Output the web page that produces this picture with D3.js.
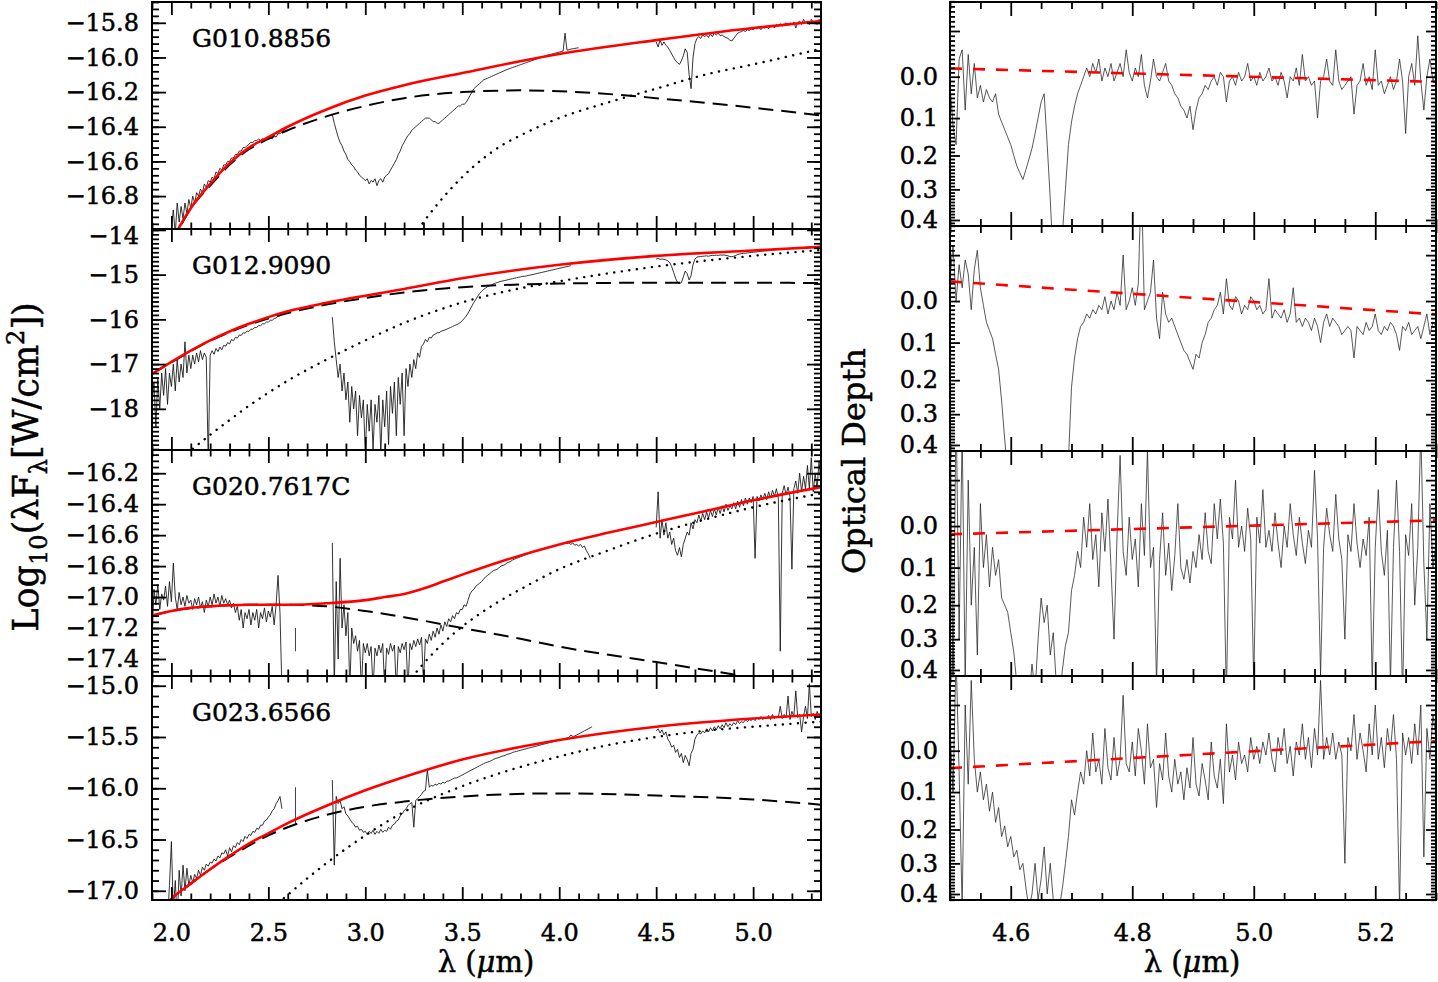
<!DOCTYPE html>
<html><head><meta charset="utf-8">
<script src="https://cdn.jsdelivr.net/npm/d3@7"></script>
<style>body{margin:0;background:#fff}</style>
</head><body><svg id="c" width="1438" height="982"></svg>
<script>
// ---------------- DATA ----------------
const panelNames = ["G010.8856","G012.9090","G020.7617C","G023.6566"];
const xTicksLeft = [2.0,2.5,3.0,3.5,4.0,4.5,5.0];
const xTicksRight = [4.6,4.8,5.0,5.2];
const yTicks1 = [-15.8,-16.0,-16.2,-16.4,-16.6,-16.8];
const yTicks2 = [-14,-15,-16,-17,-18];
const yTicks3 = [-16.2,-16.4,-16.6,-16.8,-17.0,-17.2,-17.4];
const yTicks4 = [-15.0,-15.5,-16.0,-16.5,-17.0];
const tauTicks = [0.0,0.1,0.2,0.3,0.4];
const tauExtraMajor = [-0.1];

// spectra (log10 lambda F_lambda), sampled every 0.01 micron from the given start
const specStep = 0.01;
const g1K0 = 2.00, g1K = [-16.98,-16.88,-17.02,-16.84,-16.95,-16.86,-16.93,-16.84,-16.90,-16.82,-16.87,-16.80,-16.84,-16.78,-16.80,-16.76,-16.78,-16.73,-16.75,-16.71,-16.72,-16.69,-16.70,-16.66,-16.67,-16.64,-16.65,-16.62,-16.62,-16.60,-16.60,-16.58,-16.58,-16.56,-16.56,-16.54,-16.54,-16.52,-16.52,-16.51,-16.50,-16.49,-16.49,-16.48,-16.48,-16.47,-16.48,-16.47,-16.48,-16.47,-16.47,-16.46,-16.47,-16.45,-16.46,-16.44,-16.44,-16.43,-16.42,-16.41,-16.40];
const g1L0 = 2.83, g1L = [-16.33,-16.38,-16.42,-16.46,-16.49,-16.51,-16.54,-16.56,-16.59,-16.60,-16.62,-16.63,-16.65,-16.66,-16.68,-16.69,-16.70,-16.71,-16.70,-16.73,-16.71,-16.72,-16.70,-16.74,-16.71,-16.70,-16.72,-16.69,-16.68,-16.67,-16.65,-16.63,-16.61,-16.59,-16.56,-16.54,-16.51,-16.49,-16.47,-16.45,-16.44,-16.42,-16.41,-16.40,-16.39,-16.38,-16.37,-16.36,-16.35,-16.35,-16.35,-16.36,-16.37,-16.37,-16.38,-16.38,-16.37,-16.36,-16.35,-16.34,-16.33,-16.32,-16.31,-16.30,-16.29,-16.28,-16.28,-16.27,-16.27,-16.26,-16.24,-16.22,-16.20,-16.18,-16.17,-16.16,-16.15,-16.14,-16.13,-16.125,-16.12,-16.115,-16.11,-16.105,-16.10,-16.095,-16.09,-16.085,-16.08,-16.075,-16.07,-16.066,-16.062,-16.058,-16.054,-16.05,-16.046,-16.042,-16.038,-16.034,-16.03,-16.026,-16.022,-16.018,-16.014,-16.01,-16.006,-16.002,-15.998,-15.994,-15.99,-15.987,-15.984,-15.981,-15.978,-15.975,-15.972,-15.969,-15.966,-15.963,-15.86,-15.958,-15.955,-15.952,-15.95,-15.948,-15.946,-15.944];
const g1M0 = 4.50, g1M = [-15.91,-15.94,-15.90,-15.93,-15.91,-15.93,-15.94,-15.96,-15.98,-16.00,-16.02,-16.03,-16.04,-16.02,-15.99,-15.95,-15.97,-16.10,-16.18,-16.00,-15.92,-15.89,-15.88,-15.89,-15.87,-15.88,-15.87,-15.885,-15.865,-15.88,-15.86,-15.87,-15.86,-15.875,-15.87,-15.88,-15.885,-15.89,-15.90,-15.905,-15.89,-15.875,-15.86,-15.855,-15.85,-15.845,-15.85,-15.84,-15.845,-15.835,-15.84,-15.83,-15.835,-15.825,-15.84,-15.825,-15.83,-15.82,-15.835,-15.82,-15.815,-15.83,-15.81,-15.82,-15.805,-15.82,-15.81,-15.80,-15.815,-15.80,-15.81,-15.795,-15.83,-15.80,-15.79,-15.81,-15.78,-15.80,-15.79,-15.81,-15.78,-15.80,-15.79,-15.81,-15.78,-15.80];

const g2K0 = 1.90, g2K = [-17.9,-17.4,-18.4,-17.3,-18.0,-17.2,-17.7,-17.1,-17.9,-17.2,-17.5,-17.0,-17.6,-16.9,-17.4,-17.0,-17.3,-16.5,-17.2,-16.8,-17.1,-16.8,-17.0,-16.75,-16.95,-16.7,-16.9,-16.75,-16.85,-19.2,-16.8,-16.7,-16.78,-16.65,-16.72,-16.62,-16.68,-16.58,-16.6,-16.52,-16.55,-16.45,-16.48,-16.4,-16.42,-16.35,-16.36,-16.3,-16.31,-16.26,-16.27,-16.22,-16.22,-16.18,-16.18,-16.14,-16.14,-16.10,-16.10,-16.06,-16.06,-16.02,-16.02,-15.98,-15.97,-15.93,-15.92];
const g2L0 = 2.83, g2L = [-15.95,-16.5,-16.9,-17.3,-17.0,-17.6,-17.2,-17.8,-17.4,-18.3,-17.5,-18.0,-17.6,-18.6,-17.7,-18.2,-17.8,-19.0,-17.9,-18.5,-17.8,-18.9,-17.9,-18.3,-17.7,-19.0,-17.8,-18.4,-17.6,-18.8,-17.5,-18.1,-17.4,-18.6,-17.3,-17.9,-17.2,-18.6,-17.1,-17.5,-17.0,-17.3,-16.9,-17.1,-16.75,-16.85,-16.6,-16.55,-16.45,-16.5,-16.4,-16.42,-16.35,-16.33,-16.30,-16.30,-16.27,-16.25,-16.24,-16.22,-16.2,-16.18,-16.16,-16.14,-16.12,-16.10,-16.07,-16.03,-15.98,-15.93,-15.86,-15.78,-15.70,-15.62,-15.55,-15.48,-15.42,-15.37,-15.33,-15.30,-15.27,-15.25,-15.23,-15.21,-15.19,-15.18,-15.16,-15.15,-15.14,-15.13,-15.12,-15.11,-15.10,-15.09,-15.08,-15.07,-15.06,-15.05,-15.04,-15.035,-15.03,-15.02,-15.01,-15.0,-14.99,-14.98,-14.97,-14.96,-14.95,-14.94,-14.93,-14.92,-14.91,-14.90,-14.89,-14.88,-14.87,-14.86,-14.85,-14.84,-14.83,-14.82,-14.81,-14.80];
const g2M0 = 4.50, g2M = [-14.65,-14.64,-14.66,-14.65,-14.66,-14.67,-14.69,-14.73,-14.82,-14.95,-15.08,-15.17,-15.20,-15.18,-15.05,-14.92,-14.98,-15.12,-15.02,-14.78,-14.65,-14.61,-14.60,-14.595,-14.59,-14.585,-14.58,-14.59,-14.575,-14.57,-14.57,-14.565,-14.57,-14.56,-14.565,-14.56,-14.57,-14.58,-14.595,-14.60,-14.59,-14.57,-14.55,-14.54,-14.53,-14.525,-14.52,-14.515,-14.51,-14.505,-14.5,-14.495,-14.49,-14.485,-14.48,-14.475,-14.47,-14.47,-14.465,-14.46,-14.455,-14.45,-14.445,-14.44,-14.44,-14.435,-14.43,-14.425,-14.42,-14.42,-14.415,-14.41,-14.41,-14.405,-14.40,-14.40,-14.395,-14.39,-14.39,-14.385,-14.38,-14.38,-14.375,-14.37,-14.37,-14.365];

const g3K0 = 1.90, g3K = [-17.30,-16.95,-17.05,-16.92,-17.08,-16.98,-17.02,-16.93,-17.06,-16.90,-17.03,-16.78,-17.00,-17.08,-16.97,-17.05,-17.00,-17.06,-16.99,-17.04,-17.02,-17.08,-17.01,-17.05,-17.0,-17.07,-17.03,-17.1,-17.02,-17.06,-17.0,-17.05,-16.98,-17.04,-17.0,-17.06,-16.99,-17.04,-17.01,-17.05,-17.02,-17.07,-17.04,-17.1,-17.06,-17.15,-17.08,-17.2,-17.1,-17.14,-17.08,-17.18,-17.1,-17.15,-17.08,-17.2,-17.1,-17.14,-17.07,-17.16,-17.09,-17.13,-17.06,-17.18,-17.05,-16.86,-17.1,-17.6];
const g3L0 = 2.83, g3L = [-16.65,-17.6,-16.9,-17.4,-16.75,-17.2,-17.05,-17.25,-17.1,-17.6,-17.2,-17.3,-17.25,-17.35,-17.28,-17.6,-17.3,-17.36,-17.3,-17.38,-17.32,-17.6,-17.33,-17.38,-17.31,-17.36,-17.3,-17.6,-17.33,-17.37,-17.3,-17.35,-17.31,-17.6,-17.32,-17.36,-17.3,-17.34,-17.29,-17.6,-17.3,-17.34,-17.28,-17.32,-17.27,-17.31,-17.26,-17.55,-17.27,-17.3,-17.24,-17.28,-17.22,-17.26,-17.2,-17.24,-17.18,-17.22,-17.16,-17.19,-17.14,-17.16,-17.12,-17.14,-17.1,-17.11,-17.08,-17.08,-17.05,-17.06,-17.02,-16.98,-16.96,-16.95,-16.93,-16.92,-16.91,-16.9,-16.885,-16.87,-16.86,-16.85,-16.84,-16.83,-16.825,-16.82,-16.81,-16.80,-16.795,-16.79,-16.78,-16.775,-16.77,-16.76,-16.755,-16.75,-16.745,-16.74,-16.735,-16.73,-16.725,-16.72,-16.715,-16.71,-16.705,-16.70,-16.70,-16.695,-16.69,-16.69,-16.685,-16.68,-16.68,-16.675,-16.67,-16.67,-16.665,-16.66,-16.66,-16.655,-16.65,-16.655,-16.65,-16.66,-16.65,-16.665,-16.66,-16.67,-16.66,-16.68,-16.67,-16.7,-16.72,-16.75];
const g3M0 = 4.50, g3M = [-16.55,-16.32,-16.62,-16.5,-16.6,-16.52,-16.62,-16.58,-16.66,-16.62,-16.7,-16.73,-16.68,-16.74,-16.66,-16.62,-16.58,-16.6,-16.52,-16.56,-16.5,-16.52,-16.47,-16.51,-16.46,-16.5,-16.45,-16.49,-16.44,-16.48,-16.43,-16.47,-16.42,-16.46,-16.41,-16.45,-16.4,-16.44,-16.41,-16.43,-16.39,-16.43,-16.38,-16.42,-16.37,-16.41,-16.36,-16.4,-16.36,-16.39,-16.35,-16.75,-16.35,-16.38,-16.34,-16.37,-16.33,-16.37,-16.32,-16.36,-16.31,-16.35,-16.3,-16.36,-17.35,-16.33,-16.28,-16.34,-16.29,-16.35,-16.82,-16.3,-16.25,-16.33,-16.2,-16.32,-16.22,-16.3,-16.15,-16.3,-16.1,-16.32,-16.2,-16.3,-16.12,-16.28];

const g4K0 = 1.98, g4K = [-17.3,-16.95,-16.52,-17.2,-16.9,-17.3,-16.8,-17.05,-16.75,-17.0,-16.78,-16.95,-16.85,-16.92,-16.84,-16.88,-16.8,-16.85,-16.77,-16.8,-16.74,-16.76,-16.72,-16.73,-16.69,-16.71,-16.66,-16.68,-16.63,-16.64,-16.6,-16.66,-16.58,-16.62,-16.56,-16.58,-16.53,-16.55,-16.5,-16.52,-16.47,-16.49,-16.45,-16.46,-16.42,-16.43,-16.39,-16.4,-16.36,-16.36,-16.32,-16.31,-16.28,-16.26,-16.22,-16.2,-16.15,-16.12,-16.08,-16.2];
const g4L0 = 2.83, g4L = [-15.92,-16.75,-16.08,-16.15,-16.12,-16.2,-16.18,-16.25,-16.27,-16.3,-16.33,-16.35,-16.38,-16.37,-16.41,-16.4,-16.43,-16.42,-16.45,-16.42,-16.44,-16.41,-16.45,-16.42,-16.44,-16.4,-16.43,-16.41,-16.42,-16.38,-16.4,-16.36,-16.35,-16.32,-16.31,-16.27,-16.25,-16.22,-16.2,-16.17,-16.15,-16.14,-16.38,-16.12,-16.1,-16.08,-16.06,-16.03,-16.02,-15.82,-15.99,-15.97,-15.98,-15.96,-15.97,-15.95,-15.96,-15.94,-15.95,-15.93,-15.93,-15.92,-15.91,-15.9,-15.9,-15.89,-15.88,-15.87,-15.86,-15.85,-15.84,-15.83,-15.82,-15.81,-15.8,-15.79,-15.78,-15.77,-15.76,-15.75,-15.745,-15.74,-15.73,-15.72,-15.71,-15.705,-15.70,-15.69,-15.685,-15.68,-15.67,-15.665,-15.66,-15.65,-15.645,-15.64,-15.635,-15.63,-15.625,-15.62,-15.615,-15.61,-15.605,-15.60,-15.595,-15.59,-15.585,-15.58,-15.575,-15.57,-15.565,-15.56,-15.555,-15.55,-15.545,-15.54,-15.535,-15.53,-15.525,-15.52,-15.515,-15.51,-15.505,-15.48,-15.495,-15.49,-15.48,-15.47,-15.46,-15.45,-15.44,-15.43,-15.42,-15.41,-15.40];
const g4M0 = 4.50, g4M = [-15.44,-15.42,-15.46,-15.43,-15.48,-15.45,-15.52,-15.55,-15.6,-15.58,-15.65,-15.62,-15.7,-15.66,-15.75,-15.68,-15.72,-15.78,-15.66,-15.62,-15.52,-15.48,-15.46,-15.47,-15.44,-15.46,-15.42,-15.45,-15.41,-15.44,-15.4,-15.43,-15.39,-15.42,-15.38,-15.41,-15.36,-15.4,-15.37,-15.39,-15.36,-15.38,-15.34,-15.37,-15.35,-15.36,-15.33,-15.35,-15.33,-15.34,-15.32,-15.34,-15.31,-15.33,-15.3,-15.33,-15.31,-15.32,-15.29,-15.33,-15.28,-15.32,-15.3,-15.31,-15.2,-15.32,-15.28,-15.31,-15.1,-15.33,-15.25,-15.3,-15.05,-15.31,-15.28,-15.45,-15.3,-15.2,-15.32,-14.98,-15.3,-15.27,-15.33,-15.25,-15.3,-15.26];

// model curves [lambda, log flux]: total (red), cool component (dashed), hot component (dotted)
const g1Red  = [[2.0,-17.07],[2.05,-16.96],[2.1,-16.87],[2.2,-16.73],[2.3,-16.61],[2.4,-16.52],[2.5,-16.46],[2.6,-16.40],[2.8,-16.30],[3.0,-16.22],[3.2,-16.16],[3.5,-16.09],[4.0,-15.98],[4.5,-15.90],[5.0,-15.83],[5.35,-15.79]];
const g1Dash = [[2.0,-17.08],[2.1,-16.87],[2.2,-16.74],[2.3,-16.62],[2.4,-16.53],[2.5,-16.47],[2.6,-16.42],[2.8,-16.34],[3.0,-16.28],[3.2,-16.235],[3.5,-16.20],[3.8,-16.19],[4.0,-16.195],[4.3,-16.215],[4.5,-16.235],[5.0,-16.29],[5.35,-16.335]];
const g1Dot  = [[3.25,-17.03],[3.3,-16.95],[3.4,-16.81],[3.5,-16.69],[3.6,-16.59],[3.7,-16.51],[3.8,-16.45],[4.0,-16.35],[4.25,-16.26],[4.5,-16.18],[4.75,-16.10],[5.0,-16.04],[5.35,-15.95]];
const g2Red  = [[1.9,-17.22],[2.0,-16.95],[2.1,-16.70],[2.2,-16.47],[2.3,-16.27],[2.4,-16.10],[2.5,-15.95],[2.6,-15.82],[2.8,-15.63],[3.0,-15.47],[3.2,-15.32],[3.5,-15.08],[4.0,-14.78],[4.5,-14.58],[5.0,-14.46],[5.35,-14.38]];
const g2Dash = [[1.9,-17.22],[2.0,-16.96],[2.2,-16.48],[2.4,-16.12],[2.6,-15.86],[2.8,-15.67],[3.0,-15.52],[3.2,-15.40],[3.5,-15.28],[3.8,-15.22],[4.0,-15.20],[4.5,-15.18],[5.0,-15.18],[5.35,-15.19]];
const g2Dot  = [[2.08,-19.0],[2.2,-18.58],[2.3,-18.25],[2.4,-17.93],[2.5,-17.64],[2.6,-17.37],[2.8,-16.90],[3.0,-16.47],[3.2,-16.08],[3.5,-15.62],[3.75,-15.35],[4.0,-15.15],[4.5,-14.82],[5.0,-14.58],[5.35,-14.45]];
const g3Red  = [[1.9,-17.12],[2.0,-17.09],[2.1,-17.07],[2.2,-17.06],[2.4,-17.05],[2.6,-17.05],[2.8,-17.04],[3.0,-17.02],[3.1,-17.0],[3.2,-16.98],[3.3,-16.945],[3.4,-16.90],[3.5,-16.855],[3.7,-16.77],[4.0,-16.66],[4.25,-16.585],[4.5,-16.515],[4.75,-16.445],[5.0,-16.375],[5.35,-16.29]];
const g3Dash = [[1.9,-17.12],[2.0,-17.09],[2.2,-17.06],[2.4,-17.05],[2.6,-17.05],[2.8,-17.06],[3.0,-17.09],[3.2,-17.13],[3.5,-17.20],[3.8,-17.27],[4.0,-17.32],[4.5,-17.42],[5.0,-17.52]];
const g3Dot  = [[3.24,-17.52],[3.3,-17.43],[3.4,-17.30],[3.5,-17.19],[3.6,-17.10],[3.7,-17.02],[3.8,-16.95],[4.0,-16.82],[4.25,-16.70],[4.5,-16.59],[4.75,-16.50],[5.0,-16.42],[5.35,-16.33]];
const g4Red  = [[1.98,-17.12],[2.0,-17.08],[2.1,-16.93],[2.2,-16.79],[2.3,-16.66],[2.4,-16.54],[2.5,-16.44],[2.6,-16.34],[2.8,-16.17],[3.0,-16.02],[3.2,-15.89],[3.5,-15.72],[4.0,-15.53],[4.5,-15.40],[5.0,-15.32],[5.35,-15.28]];
const g4Dash = [[1.98,-17.12],[2.0,-17.08],[2.1,-16.93],[2.2,-16.79],[2.3,-16.67],[2.4,-16.56],[2.5,-16.46],[2.6,-16.38],[2.8,-16.26],[3.0,-16.18],[3.2,-16.13],[3.5,-16.08],[4.0,-16.05],[4.5,-16.07],[5.0,-16.11],[5.35,-16.16]];
const g4Dot  = [[2.55,-17.12],[2.6,-17.04],[2.7,-16.88],[2.8,-16.73],[3.0,-16.46],[3.2,-16.23],[3.5,-15.98],[3.75,-15.82],[4.0,-15.69],[4.25,-15.58],[4.5,-15.50],[4.75,-15.44],[5.0,-15.40],[5.35,-15.35]];
const g3Spike = [[2.64,-17.2],[2.64,-17.35]];
const g4Spike = [[2.64,-15.99],[2.64,-16.35]];

// optical depth, sampled every 0.005 micron from 4.500
const tauStart = 4.5, tauStep = 0.005;
const tau1 = [0.02,0.12,0.17,-0.04,-0.06,0.08,-0.05,0.04,-0.03,0.05, 0.02,0.06,0.03,0.05,0.06,0.04,0.09,0.11,0.13,0.15, 0.17,0.20,0.23,0.25,0.27,0.24,0.21,0.18,0.14,0.10, 0.06,0.04,0.17,0.33,0.55,0.70,0.65,0.45,0.30,0.17, 0.11,0.07,0.04,0.02,0.0,-0.02,0.0,-0.03,-0.01,-0.04, 0.01,-0.02,0.0,-0.03,0.01,-0.01,-0.03,0.0,-0.06,-0.01, 0.01,-0.02,0.0,-0.05,0.02,0.05,0.01,-0.04,0.0,0.01, -0.01,-0.03,0.01,0.02,0.04,0.05,0.07,0.08,0.10,0.07, 0.13,0.08,0.05,0.04,0.02,0.03,0.01,0.0,0.02,-0.01, 0.0,0.06,0.01,0.0,0.02,-0.01,0.01,0.0,-0.03,0.01, 0.0,0.02,-0.01,0.01,0.0,-0.02,0.01,0.0,0.02,-0.01, 0.01,0.05,0.0,0.01,-0.02,0.02,-0.05,0.01,0.0,0.02, 0.01,0.10,0.01,0.0,-0.04,0.01,0.02,-0.06,0.01,0.03, 0.02,0.01,0.0,0.09,0.02,0.01,-0.03,0.02,0.0,0.03, -0.06,0.02,0.01,0.04,0.02,0.0,0.03,0.01,-0.04,0.01, 0.14,0.0,-0.03,0.02,-0.09,0.01,0.08,0.0,-0.04,0.01, -0.01];
const tau2 = [-0.05,-0.12,0.0,-0.08,-0.03,-0.09,-0.06,0.02,-0.07,-0.11, -0.03,0.01,0.05,0.07,0.09,0.13,0.17,0.26,0.38,0.5, 0.6,0.6,0.6,0.6,0.6,0.6,0.6,0.6,0.6,0.6, 0.6,0.6,0.6,0.6,0.6,0.6,0.6,0.6,0.6,0.45, 0.22,0.14,0.09,0.06,0.05,0.03,0.04,0.02,0.03,0.01, 0.02,-0.01,0.03,0.0,0.02,-0.02,0.01,-0.1,0.02,0.0, -0.03,0.01,-0.04,-0.25,0.02,0.0,-0.02,-0.09,0.04,0.09, -0.02,0.03,0.05,0.04,0.06,0.08,0.1,0.12,0.13,0.15, 0.17,0.13,0.14,0.1,0.08,0.05,0.04,0.02,0.01,-0.02, 0.03,-0.05,0.01,0.02,-0.01,0.0,0.03,0.01,0.02,-0.01, 0.0,0.02,0.01,0.03,0.02,-0.05,0.04,0.02,0.03,0.04, 0.02,0.05,0.03,-0.03,0.05,0.04,0.06,0.04,0.05,0.07, 0.04,0.06,0.1,0.05,0.03,0.06,0.04,0.05,0.06,0.08, 0.07,0.06,0.07,0.14,0.06,0.07,0.08,0.05,0.07,0.06, 0.03,0.07,0.08,0.06,0.07,0.05,0.06,0.08,0.12,0.06, 0.07,0.05,0.08,0.07,0.06,0.09,0.06,0.03,0.08,0.05, 0.06];
const tau3 = [-0.3,0.5,-0.25,0.3,-0.2,0.45,-0.1,0.2,0.05,0.35, -0.05,0.1,0.02,0.15,0.05,0.12,0.08,0.18,0.2,0.22, 0.28,0.34,0.45,0.5,0.42,0.55,0.5,0.38,0.48,0.3, 0.18,0.25,0.2,0.35,0.28,0.45,0.5,0.4,0.32,0.28, 0.16,0.12,0.06,0.1,-0.02,0.05,-0.05,0.08,0.02,0.15, -0.03,0.06,-0.06,0.1,0.3,0.02,-0.15,0.06,0.12,-0.02, 0.08,0.03,0.15,-0.05,0.07,-0.16,0.1,0.05,0.45,0.08, -0.03,0.12,0.04,0.16,0.07,-0.05,0.1,0.13,0.08,0.14, 0.06,0.1,0.02,0.08,-0.03,0.06,0.09,-0.05,0.03,-0.06, 0.04,0.5,-0.02,0.03,-0.1,0.05,0.0,0.06,-0.04,0.03, 0.45,-0.02,0.04,-0.08,0.05,0.01,0.06,-0.03,0.04,0.1, 0.0,0.05,-0.05,0.02,0.07,-0.02,0.04,0.09,0.01,0.05, -0.12,0.03,0.42,0.05,-0.04,0.02,0.06,-0.07,0.03,0.08, 0.3,0.02,0.06,-0.05,0.04,0.1,0.03,0.07,-0.02,0.45, 0.05,-0.08,0.06,0.12,0.01,0.45,0.05,-0.1,0.06,0.5, 0.02,0.07,-0.05,0.2,0.05,-0.2,0.09,0.3,-0.05,0.1, 0.04];
const tau4 = [-0.05,0.1,-0.2,0.05,0.45,-0.1,0.08,-0.15,0.02,0.1, 0.05,0.12,0.08,0.15,0.1,0.18,0.14,0.22,0.19,0.25, 0.22,0.28,0.26,0.32,0.3,0.38,0.45,0.4,0.3,0.42, 0.35,0.25,0.4,0.3,0.42,0.5,0.45,0.38,0.3,0.22, 0.12,0.16,0.1,0.05,0.08,0.0,0.06,-0.04,0.05,0.02, 0.08,-0.05,0.04,0.07,-0.03,0.06,0.02,-0.12,0.03,0.05, -0.02,0.06,-0.05,0.0,0.08,-0.06,0.04,0.02,0.14,0.03, 0.07,-0.04,0.06,0.1,0.02,0.08,0.05,0.12,0.04,0.09, -0.03,0.08,0.11,0.03,0.07,0.12,-0.02,0.06,0.09,0.02, 0.13,-0.06,0.05,0.01,0.07,-0.02,0.03,0.01,0.05,-0.03, 0.02,-0.01,0.03,-0.02,0.01,-0.04,0.02,0.05,-0.03,0.01, -0.05,0.03,-0.01,0.06,-0.02,0.01,-0.06,0.02,-0.03,0.04, -0.05,0.01,-0.15,0.02,-0.03,0.01,-0.04,0.02,-0.02,0.01, 0.3,-0.03,0.0,-0.08,0.02,-0.04,0.0,0.05,-0.06,0.01, -0.1,0.02,-0.03,0.04,-0.05,0.0,-0.08,0.02,0.45,-0.04, 0.01,-0.03,0.03,-0.06,0.01,-0.1,0.28,-0.05,0.02,-0.08, -0.03];
// continuum baselines in optical depth [lambda, tau]
const base1 = [[4.5,-0.019],[5.3,0.012]];
const base2 = [[4.5,-0.044],[5.3,0.031]];
const base3 = [[4.5,0.019],[5.3,-0.013]];
const base4 = [[4.5,0.041],[5.3,-0.022]];

// ---------------- LAYOUT ----------------
const FONT = "'DejaVu Serif', serif";
const svg = d3.select("#c");
const Lx = [152, 821], Rx = [950, 1436];
const rowsL = [[2,229],[229,450],[450,676],[676,900]];
const rowsR = [[2,226],[226,451],[451,676],[676,900]];
const xL = d3.scaleLinear().domain([1.9,5.35]).range(Lx);
const xR = d3.scaleLinear().domain([4.5,5.3]).range(Rx);

const leftPanels = [
  {name: panelNames[0], dom: [-16.99,-15.68], ticks: yTicks1, minor: 0.04, fmt: d3.format(".1f"), segs: [[g1K0,g1K],[g1L0,g1L],[g1M0,g1M]], red: g1Red, dash: g1Dash, dot: g1Dot, extra: []},
  {name: panelNames[1], dom: [-18.92,-13.98], ticks: yTicks2, minor: 0.1, fmt: d3.format("d"), segs: [[g2K0,g2K],[g2L0,g2L],[g2M0,g2M]], red: g2Red, dash: g2Dash, dot: g2Dot, extra: []},
  {name: panelNames[2], dom: [-17.51,-16.05], ticks: yTicks3, minor: 0.04, fmt: d3.format(".1f"), segs: [[g3K0,g3K],[g3L0,g3L],[g3M0,g3M]], red: g3Red, dash: g3Dash, dot: g3Dot, extra: [g3Spike]},
  {name: panelNames[3], dom: [-17.09,-14.905], ticks: yTicks4, minor: 0.1, fmt: d3.format(".1f"), segs: [[g4K0,g4K],[g4L0,g4L],[g4M0,g4M]], red: g4Red, dash: g4Dash, dot: g4Dot, extra: [g4Spike]}
];
const rightPanels = [
  {tau: tau1, base: base1}, {tau: tau2, base: base2}, {tau: tau3, base: base3}, {tau: tau4, base: base4}
];

function range(lo, hi, step) {
  const a = [];
  for (let k = Math.ceil(lo/step - 1e-9); k*step <= hi + 1e-9; k++) a.push(+(k*step).toFixed(6));
  return a;
}
function putAxis(g, gen, tx, ty, vals, size, fmt, pad, fs) {
  const a = gen.tickValues(vals).tickSize(-size).tickPadding(pad || 0).tickFormat(fmt || (() => ""));
  const s = g.append("g").attr("transform", `translate(${tx},${ty})`).call(a);
  s.select(".domain").remove();
  s.selectAll(".tick line").attr("stroke", "#000").attr("stroke-width", 1.8);
  s.selectAll(".tick text").attr("font-family", FONT).attr("font-size", fs || 24).attr("fill", "#000")
    .attr("stroke", "#000").attr("stroke-width", 0.5);
  return s;
}
let clipId = 0;
function clipRect(x0, x1, y0, y1) {
  const id = "cp" + (clipId++);
  svg.append("clipPath").attr("id", id).append("rect").attr("x", x0).attr("y", y0).attr("width", x1 - x0).attr("height", y1 - y0);
  return "url(#" + id + ")";
}

// ---------------- LEFT PANELS ----------------
leftPanels.forEach((p, i) => {
  const [top, bot] = rowsL[i];
  const y = d3.scaleLinear().domain(p.dom).range([bot, top]);
  const g = svg.append("g");
  const data = g.append("g").attr("clip-path", clipRect(Lx[0], Lx[1], top, bot));
  const line = d3.line().x(d => xL(d[0])).y(d => y(d[1]));
  const smooth = d3.line().x(d => xL(d[0])).y(d => y(d[1])).curve(d3.curveMonotoneX);
  p.segs.forEach(([l0, vals]) => {
    data.append("path").datum(vals.map((v, k) => [l0 + k*specStep, v]))
      .attr("d", line).attr("fill", "none").attr("stroke", "#111").attr("stroke-width", 0.85).attr("stroke-linejoin", "round");
  });
  p.extra.forEach(s => data.append("path").datum(s).attr("d", line).attr("fill","none").attr("stroke","#111").attr("stroke-width",0.8));
  data.append("path").datum(p.dash).attr("d", smooth).attr("fill","none").attr("stroke","#000").attr("stroke-width",2).attr("stroke-dasharray","15,8");
  data.append("path").datum(p.dot).attr("d", smooth).attr("fill","none").attr("stroke","#000").attr("stroke-width",2.4).attr("stroke-linecap","round").attr("stroke-dasharray","0.1,7.5");
  data.append("path").datum(p.red).attr("d", smooth).attr("fill","none").attr("stroke","#ff0000").attr("stroke-width",2.6);

  const xMinor = range(1.9, 5.35, 0.1).filter(v => !xTicksLeft.some(t => Math.abs(t - v) < 1e-6));
  const yMinor = range(p.dom[0], p.dom[1], p.minor);
  putAxis(g, d3.axisBottom(xL), 0, bot, xMinor, 6.5);
  putAxis(g, d3.axisBottom(xL), 0, bot, xTicksLeft, 13, i === 3 ? d3.format(".1f") : null, 24);
  putAxis(g, d3.axisTop(xL), 0, top, xMinor, 6.5);
  putAxis(g, d3.axisTop(xL), 0, top, xTicksLeft, 13);
  putAxis(g, d3.axisLeft(y), Lx[0], 0, yMinor, 7);
  const la = putAxis(g, d3.axisLeft(y), Lx[0], 0, p.ticks, 14, p.fmt, 13);
  if (i === 1) la.selectAll(".tick text").filter(d => d === -14).attr("y", 6);
  putAxis(g, d3.axisRight(y), Lx[1], 0, yMinor, 7);
  putAxis(g, d3.axisRight(y), Lx[1], 0, p.ticks, 14);
  g.append("rect").attr("x", Lx[0]).attr("y", top).attr("width", Lx[1]-Lx[0]).attr("height", bot-top)
    .attr("fill","none").attr("stroke","#000").attr("stroke-width",2);
  g.append("text").attr("x", 192).attr("y", top + 45).text(p.name)
    .attr("font-family", FONT).attr("font-size", 25).attr("fill","#000").attr("stroke","#000").attr("stroke-width",0.5);
});

// ---------------- RIGHT PANELS ----------------
rightPanels.forEach((p, i) => {
  const [top, bot] = rowsR[i];
  // axis is linear in exp(-tau) (normalized flux), labelled in optical depth
  const u = d3.scaleLinear().domain([1.1719, 0.6565]).range([top, bot]);
  const yT = t => u(Math.exp(-t));
  const g = svg.append("g");
  const data = g.append("g").attr("clip-path", clipRect(Rx[0], Rx[1], top, bot));
  const line = d3.line().x(d => xR(d[0])).y(d => yT(d[1]));
  data.append("path").datum(p.tau.map((v, k) => [tauStart + k*tauStep, v]))
    .attr("d", line).attr("fill","none").attr("stroke","#222").attr("stroke-width",0.75).attr("stroke-linejoin","round");
  data.append("path").datum(p.base).attr("d", line).attr("fill","none").attr("stroke","#ff0000").attr("stroke-width",2.6).attr("stroke-dasharray","12,11");

  const xMinor = range(4.5, 5.3, 0.05).filter(v => !xTicksRight.some(t => Math.abs(t - v) < 1e-6));
  const tMinor = range(-0.16, 0.42, 0.01).filter(v => ![...tauTicks, ...tauExtraMajor].some(t => Math.abs(t - v) < 1e-6)).map(t => Math.exp(-t));
  const tMajorU = tauTicks.map(t => Math.exp(-t));
  const tAllMajorU = [...tauExtraMajor, ...tauTicks].map(t => Math.exp(-t));
  const tLab = tauTicks.map(t => d3.format(".1f")(t));
  putAxis(g, d3.axisBottom(xR), 0, bot, xMinor, 7);
  putAxis(g, d3.axisBottom(xR), 0, bot, xTicksRight, 14, i === 3 ? d3.format(".1f") : null, 24);
  putAxis(g, d3.axisTop(xR), 0, top, xMinor, 7);
  putAxis(g, d3.axisTop(xR), 0, top, xTicksRight, 14);
  putAxis(g, d3.axisLeft(u), Rx[0], 0, tMinor, 5);
  putAxis(g, d3.axisLeft(u), Rx[0], 0, tAllMajorU, 10);
  putAxis(g, d3.axisLeft(u), Rx[0], 0, tMajorU, 0.001, (d, k) => tLab[k], 12);
  putAxis(g, d3.axisRight(u), Rx[1], 0, tMinor, 5);
  putAxis(g, d3.axisRight(u), Rx[1], 0, tAllMajorU, 10);
  g.append("rect").attr("x", Rx[0]).attr("y", top).attr("width", Rx[1]-Rx[0]).attr("height", bot-top)
    .attr("fill","none").attr("stroke","#000").attr("stroke-width",2);
});

// ---------------- TITLES ----------------
function txt(x, y, size) {
  return svg.append("text").attr("x", x).attr("y", y).attr("font-family", FONT).attr("font-size", size)
    .attr("fill","#000").attr("stroke","#000").attr("stroke-width",0.5).attr("text-anchor","middle");
}
[[486, 972], [1192, 972]].forEach(([x, yy]) => {
  const t = txt(x, yy, 29);
  t.append("tspan").text("λ (");
  t.append("tspan").attr("font-style","italic").text("μ");
  t.append("tspan").text("m)");
});
const od = txt(0, 0, 32).attr("transform", "translate(865,461) rotate(-90)");
od.text("Optical Depth");
const yl = txt(0, 0, 35).attr("transform", "translate(38,467) rotate(-90)");
yl.append("tspan").text("Log");
yl.append("tspan").attr("font-size", 24).attr("dy", 9).text("10");
yl.append("tspan").attr("dy", -9).text("(λF");
yl.append("tspan").attr("font-size", 24).attr("dy", 9).text("λ");
yl.append("tspan").attr("dy", -9).text("[W/cm");
yl.append("tspan").attr("font-size", 24).attr("dy", -14).text("2");
yl.append("tspan").attr("dy", 14).text("])");
</script></body></html>
